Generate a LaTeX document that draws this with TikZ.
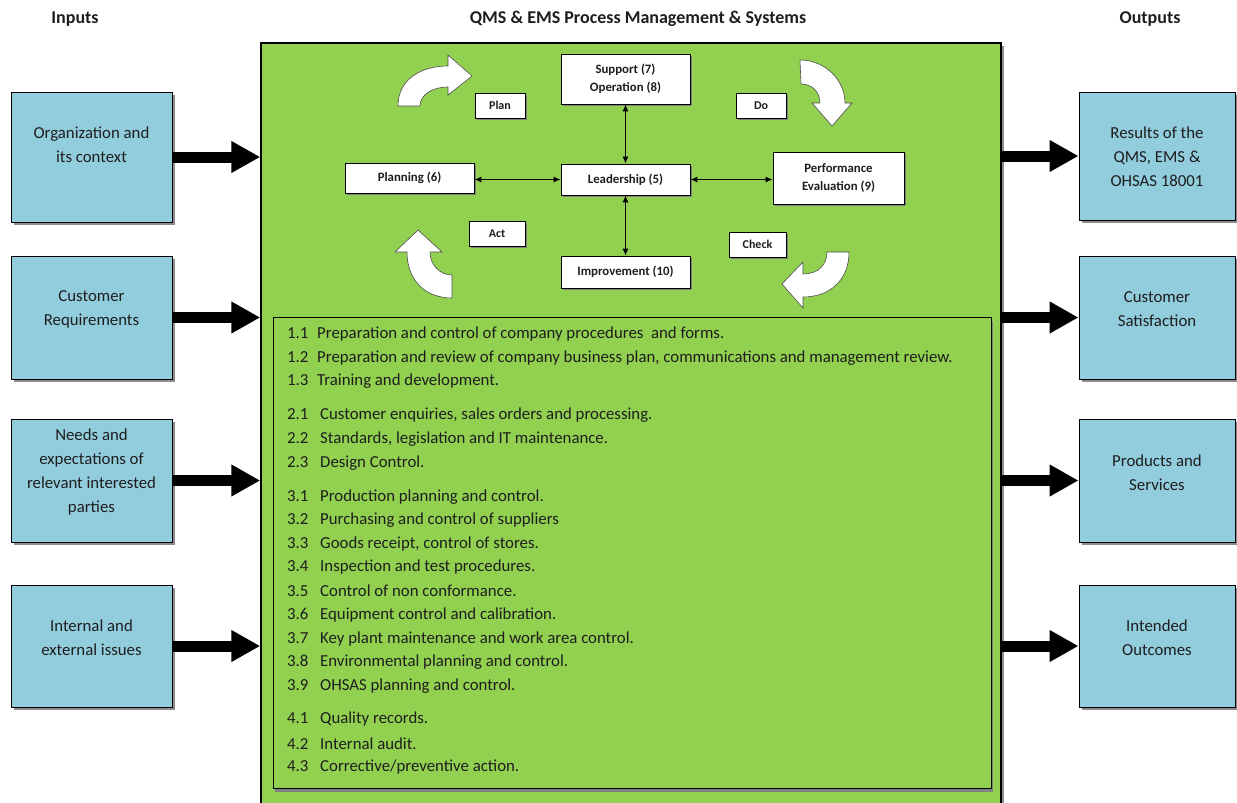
\documentclass[tikz,border=0pt]{standalone}
\usepackage{fontspec}
\setmainfont{Carlito}
\usetikzlibrary{positioning,calc,arrows.meta,shadows}
\definecolor{qmsgreen}{RGB}{146,208,80}
\definecolor{ioblue}{RGB}{146,205,221}
\definecolor{inktext}{RGB}{30,30,30}

\tikzset{
  heading/.style={font=\bfseries\fontsize{18}{20}\selectfont, text=inktext},
  iobox/.style={draw=black, fill=ioblue, line width=1pt,
    drop shadow={shadow xshift=3pt, shadow yshift=-3pt, fill=black!45, opacity=1}},
  iotext/.style={align=center, text=inktext, inner sep=0pt, font=\fontsize{16.8}{24}\selectfont},
  stage/.style={draw=black, fill=white, line width=0.8pt, align=center, inner sep=0pt,
    font=\bfseries\fontsize{12.8}{18}\selectfont, text=inktext,
    drop shadow={shadow xshift=2pt, shadow yshift=-2pt, fill=black!50, opacity=1}},
  tag/.style={stage, font=\bfseries\fontsize{12}{13}\selectfont, minimum height=25pt},
  task/.style={anchor=west, inner sep=0pt, text=inktext, font=\fontsize{16.8}{18}\selectfont},
  bigarrow/.style={line width=11pt, -{Triangle[length=29pt,width=30pt]}},
  dblarrow/.style={line width=1.1pt, {Latex[length=7pt,width=6pt]}-{Latex[length=7pt,width=6pt]}},
  turn/.style={draw=black!70, fill=white, line width=0.6pt}
}

\begin{document}
\begin{tikzpicture}[x=1pt,y=-1pt]
  \useasboundingbox[fill=white] (0,0) rectangle (1237,803);

  % headings
  \node[heading] (hin) at (75,19) {Inputs};
  \node[heading] (htitle) at (638,19) {QMS \& EMS Process Management \& Systems};
  \node[heading] (hout) at (1150,19) {Outputs};

  % main process box
  \node[draw=black, fill=qmsgreen, line width=1.5pt, minimum width=740pt, minimum height=770pt,
    drop shadow={shadow xshift=3pt, shadow yshift=-3pt, fill=black!45, opacity=1}]
    (qms) at (631,428) {};

  % inputs
  \node[iobox, minimum width=161pt, minimum height=130pt] (in1) at (91.5,157) {};
  \node[iobox, minimum width=161pt, minimum height=123pt] (in2) at (91.5,317.5) {};
  \node[iobox, minimum width=161pt, minimum height=123pt] (in3) at (91.5,480.5) {};
  \node[iobox, minimum width=161pt, minimum height=122pt] (in4) at (91.5,646) {};
  \node[iotext] (in1t) at ([yshift=12pt]in1.center) {Organization and\\its context};
  \node[iotext] (in2t) at ([yshift=8pt]in2.center) {Customer\\Requirements};
  \node[iotext] (in3t) at ([yshift=8pt]in3.center) {Needs and\\expectations of\\relevant interested\\parties};
  \node[iotext] (in4t) at ([yshift=8pt]in4.center) {Internal and\\external issues};

  % outputs
  \node[iobox, minimum width=156pt, minimum height=128pt] (out1) at (1157,156) {};
  \node[iobox, minimum width=156pt, minimum height=123pt] (out2) at (1157,317.5) {};
  \node[iobox, minimum width=156pt, minimum height=123pt] (out3) at (1157,480.5) {};
  \node[iobox, minimum width=156pt, minimum height=122pt] (out4) at (1157,646) {};
  \node[iotext] (out1t) at ([yshift=-1pt]out1.center) {Results of the\\QMS, EMS \&\\OHSAS 18001};
  \node[iotext] (out2t) at ([yshift=8pt]out2.center) {Customer\\Satisfaction};
  \node[iotext] (out3t) at ([yshift=8pt]out3.center) {Products and\\Services};
  \node[iotext] (out4t) at ([yshift=8pt]out4.center) {Intended\\Outcomes};

  \draw[bigarrow] (in1.east) -- (in1.east -| qms.west);
  \draw[bigarrow] (in2.east) -- (in2.east -| qms.west);
  \draw[bigarrow] (in3.east) -- (in3.east -| qms.west);
  \draw[bigarrow] (in4.east) -- (in4.east -| qms.west);
  \draw[bigarrow] (qms.east |- out1.west) -- (out1.west);
  \draw[bigarrow] (qms.east |- out2.west) -- (out2.west);
  \draw[bigarrow] (qms.east |- out3.west) -- (out3.west);
  \draw[bigarrow] (qms.east |- out4.west) -- (out4.west);

  % PDCA cycle
  \node[stage, minimum width=129pt, minimum height=50pt] (sup) at (625.5,79) {Support (7)\\Operation (8)};
  \node[stage, minimum width=129pt, minimum height=30pt] (plng) at (409.5,178) {Planning (6)};
  \node[stage, minimum width=129pt, minimum height=31pt] (lead) at (625.5,179.5) {Leadership (5)};
  \node[stage, minimum width=131pt, minimum height=52pt] (perf) at (838.5,178) {Performance\\Evaluation (9)};
  \node[stage, minimum width=129pt, minimum height=32pt] (impr) at (625.5,272) {Improvement (10)};

  \node[tag, minimum width=50pt] (plan) at (500,105.5) {Plan};
  \node[tag, minimum width=50pt] (do) at (761,105.5) {Do};
  \node[tag, minimum width=56pt] (act) at (497,233.5) {Act};
  \node[tag, minimum width=57pt] (check) at (757.5,244.5) {Check};

  \draw[dblarrow] (lead.north) -- (sup.south);
  \draw[dblarrow] (lead.south) -- (impr.north);
  \draw[dblarrow] (lead.west) -- (lead.west -| plng.east);
  \draw[dblarrow] (lead.east) -- (lead.east -| perf.west);

  \draw[turn] (398,106) .. controls (398,80) and (420,66) .. (448,66) -- (448,55) -- (472,76)
    -- (448,95) -- (448,87) .. controls (432,87) and (420,95) .. (420,106) -- cycle;
  \draw[turn] (800,60) .. controls (825,60) and (845,80) .. (845,103) -- (852,103) -- (832,126)
    -- (812,103) -- (820,103) .. controls (820,92) and (812,84) .. (801,84) -- cycle;
  \draw[turn] (827,252) -- (849,252) .. controls (849,280) and (830,297) .. (803,297) -- (803,308)
    -- (782,284) -- (803,262) -- (803,274) .. controls (818,274) and (827,265) .. (827,252) -- cycle;
  \draw[turn] (452,298) .. controls (425,298) and (407,280) .. (407,252) -- (395,252) -- (418,230)
    -- (442,252) -- (430,252) .. controls (430,265) and (440,275) .. (452,275) -- cycle;

  % procedures list
  \node[draw=black, fill=qmsgreen, line width=1pt, minimum width=718pt, minimum height=471pt,
    drop shadow={shadow xshift=2pt, shadow yshift=-4pt, fill=black!50, opacity=1}]
    (tasks) at (632,552.5) {};

  \node[task] (t11) at (287,334) {\makebox[30pt][l]{1.1}Preparation and control of company procedures~ and forms.};
  \node[task] (t12) at (287,358) {\makebox[30pt][l]{1.2}Preparation and review of company business plan, communications and management review.};
  \node[task] (t13) at (287,381) {\makebox[30pt][l]{1.3}Training and development.};

  \node[task] (t21) at (287,415) {\makebox[33pt][l]{2.1}Customer enquiries, sales orders and processing.};
  \node[task] (t22) at (287,439) {\makebox[33pt][l]{2.2}Standards, legislation and IT maintenance.};
  \node[task] (t23) at (287,463) {\makebox[33pt][l]{2.3}Design Control.};

  \node[task] (t31) at (287,497) {\makebox[33pt][l]{3.1}Production planning and control.};
  \node[task] (t32) at (287,520) {\makebox[33pt][l]{3.2}Purchasing and control of suppliers};
  \node[task] (t33) at (287,544) {\makebox[33pt][l]{3.3}Goods receipt, control of stores.};
  \node[task] (t34) at (287,567) {\makebox[33pt][l]{3.4}Inspection and test procedures.};
  \node[task] (t35) at (287,591) {\makebox[33pt][l]{3.5}Control of non conformance.};
  \node[task] (t36) at (287,615) {\makebox[33pt][l]{3.6}Equipment control and calibration.};
  \node[task] (t37) at (287,639) {\makebox[33pt][l]{3.7}Key plant maintenance and work area control.};
  \node[task] (t38) at (287,662) {\makebox[33pt][l]{3.8}Environmental planning and control.};
  \node[task] (t39) at (287,686) {\makebox[33pt][l]{3.9}OHSAS planning and control.};

  \node[task] (t41) at (287,719) {\makebox[33pt][l]{4.1}Quality records.};
  \node[task] (t42) at (287,744) {\makebox[33pt][l]{4.2}Internal audit.};
  \node[task] (t43) at (287,767) {\makebox[33pt][l]{4.3}Corrective/preventive action.};
\end{tikzpicture}
\end{document}
